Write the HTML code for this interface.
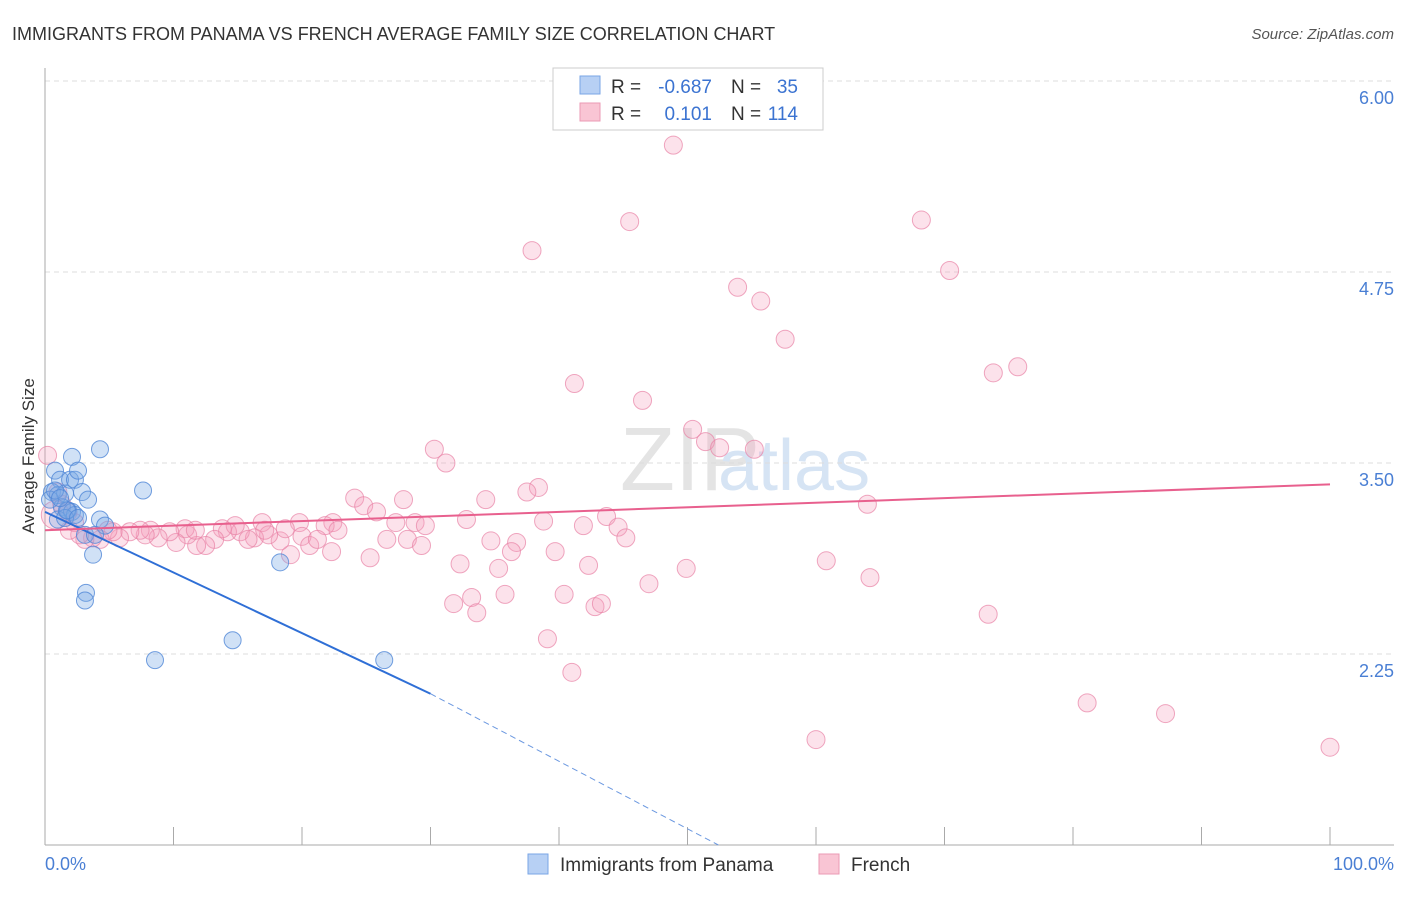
<!DOCTYPE html>
<html><head><meta charset="utf-8"><style>
body{margin:0;background:#fff;font-family:"Liberation Sans",sans-serif;}
svg text{font-family:"Liberation Sans",sans-serif;}
</style></head><body>
<svg width="1406" height="892" id="chart">
<text x="12" y="40" font-size="18" fill="#333">IMMIGRANTS FROM PANAMA VS FRENCH AVERAGE FAMILY SIZE CORRELATION CHART</text>
<text x="1394" y="39" font-size="15" fill="#555" text-anchor="end" font-style="italic">Source: ZipAtlas.com</text>
<text x="620" y="490" font-size="90" fill="#e4e4e4" font-family="Liberation Serif">ZIP</text>
<text x="718" y="490" font-size="72" fill="#d6e4f4">atlas</text>
<g id="grid"></g>
<g id="axes"></g>
<g id="pts"></g>
<g id="trends"></g>
<text transform="translate(34,456) rotate(-90)" font-size="17" fill="#333" text-anchor="middle">Average Family Size</text>
<text x="45" y="870" font-size="18" fill="#4a7fd4">0.0%</text>
<text x="1394" y="870" font-size="18" fill="#4a7fd4" text-anchor="end">100.0%</text>
<g>
<rect x="553" y="68" width="270" height="62" fill="#fff" stroke="#ccc"/>
<rect x="580" y="76" width="20" height="18" fill="#b7d0f4" stroke="#7aa6e6"/>
<rect x="580" y="103" width="20" height="18" fill="#f9c5d4" stroke="#eb9ab4"/>
<text x="611" y="93" font-size="19" fill="#333">R =</text>
<text x="712" y="93" font-size="19" fill="#3b73d1" text-anchor="end">-0.687</text>
<text x="731" y="93" font-size="19" fill="#333">N =</text>
<text x="798" y="93" font-size="19" fill="#3b73d1" text-anchor="end">35</text>
<text x="611" y="120" font-size="19" fill="#333">R =</text>
<text x="712" y="120" font-size="19" fill="#3b73d1" text-anchor="end">0.101</text>
<text x="731" y="120" font-size="19" fill="#333">N =</text>
<text x="798" y="120" font-size="19" fill="#3b73d1" text-anchor="end">114</text>
</g>
<g>
<rect x="528" y="854" width="20" height="20" fill="#b7d0f4" stroke="#7aa6e6"/>
<text x="560" y="871" font-size="19" fill="#333">Immigrants from Panama</text>
<rect x="819" y="854" width="20" height="20" fill="#f9c5d4" stroke="#eb9ab4"/>
<text x="851" y="871" font-size="19" fill="#333">French</text>
</g>
</svg>
<script>
const yTicks=[6.00,4.75,3.50,2.25];
const yTickLabels=["6.00","4.75","3.50","2.25"];
const blueX=[0.78,1.17,2.1,4.28,0.54,1.0,1.56,1.95,2.33,2.57,2.88,3.35,1.32,1.79,2.1,2.33,1.0,1.56,4.28,4.67,3.11,3.89,3.74,3.19,3.11,7.63,18.3,14.6,8.56,26.4,0.39,0.78,1.71,2.57,1.17];
const blueY=[3.45,3.39,3.54,3.59,3.31,3.29,3.30,3.39,3.39,3.45,3.31,3.26,3.21,3.19,3.18,3.16,3.13,3.14,3.13,3.09,3.03,3.03,2.90,2.65,2.60,3.32,2.85,2.34,2.21,2.21,3.26,3.32,3.19,3.14,3.27];
const pinkX=[48.9,45.5,68.2,37.9,70.4,53.9,55.7,57.6,41.2,73.8,75.7,46.5,50.4,30.3,31.2,51.4,52.5,55.2,38.4,37.5,34.3,27.9,24.1,24.8,25.8,32.8,38.8,41.9,43.7,44.6,45.2,34.7,36.7,36.3,39.7,32.3,35.3,42.3,49.9,60.8,64.2,47.0,31.8,33.2,33.6,35.8,40.4,42.8,43.3,39.1,41.0,73.4,81.1,87.2,60.0,100,64.0,28.8,29.6,27.3,26.6,28.2,29.3,25.3,22.4,21.8,22.8,19.8,20.0,20.6,21.2,22.3,19.1,18.3,18.7,16.9,17.4,16.3,15.2,14.2,14.8,13.8,13.2,12.5,11.8,11.1,10.9,10.2,9.7,8.8,8.2,7.8,7.4,6.6,5.8,5.3,4.9,4.3,3.7,3.1,2.7,2.3,1.9,1.8,1.3,1.0,0.2,0.8,11.7,15.8,17.1];
const pinkY=[5.58,5.08,5.09,4.89,4.76,4.65,4.56,4.31,4.02,4.09,4.13,3.91,3.72,3.59,3.50,3.64,3.60,3.59,3.34,3.31,3.26,3.26,3.27,3.22,3.18,3.13,3.12,3.09,3.15,3.08,3.01,2.99,2.98,2.92,2.92,2.84,2.81,2.83,2.81,2.86,2.75,2.71,2.58,2.62,2.52,2.64,2.64,2.56,2.58,2.35,2.13,2.51,1.93,1.86,1.69,1.64,3.23,3.11,3.09,3.11,3.00,3.00,2.96,2.88,3.11,3.09,3.06,3.11,3.02,2.96,3.00,2.92,2.90,2.99,3.07,3.11,3.03,3.01,3.05,3.05,3.09,3.07,3.00,2.96,2.96,3.03,3.07,2.98,3.05,3.01,3.06,3.03,3.06,3.05,3.01,3.05,3.06,3.00,3.01,3.00,3.03,3.11,3.06,3.18,3.23,3.31,3.55,3.16,3.06,3.00,3.06];
const blueTrend=[3.18,1.99,1.0]; const blueTrendX=[0,30,52.4];
const pinkTrend=[3.06,3.36]; const pinkTrendX=[0,100];
const NS="http://www.w3.org/2000/svg";
function sx(p){return 45+p*12.85;}
function sy(v){return 463-(v-3.5)*152.8;}
function mk(tag,attrs,parent){const e=document.createElementNS(NS,tag);for(const k in attrs)e.setAttribute(k,attrs[k]);document.getElementById(parent).appendChild(e);return e;}
yTicks.forEach((t,i)=>{
 const l=mk('line',{x1:45,x2:1394,y1:sy(t),y2:sy(t),stroke:'#ddd','stroke-dasharray':'5,4'},'grid');
 
 
 const tx=mk('text',{x:1394,y:sy(t)+23,'font-size':18,fill:'#4a7fd4','text-anchor':'end'},'grid');
 tx.textContent=yTickLabels[i];
 
 
});
const ax=mk('line',{x1:45,x2:45,y1:68,y2:845,stroke:'#aaa'},'axes');


const bx=mk('line',{x1:45,x2:1394,y1:845,y2:845,stroke:'#aaa'},'axes');


for(let i=1;i<=10;i++){
 const t=mk('line',{x1:sx(i*10),x2:sx(i*10),y1:827,y2:845,stroke:'#aaa'},'axes');
 
 
}
pinkX.forEach((x,i)=>{
 const c=mk('circle',{cx:sx(x),cy:sy(pinkY[i]),r:(i==pinkX.length-4)?14:9,fill:'rgba(244,160,188,0.3)',stroke:'rgba(232,130,165,0.7)','stroke-width':1},'pts');
 
 
});
blueX.forEach((x,i)=>{
 const c=mk('circle',{cx:sx(x),cy:sy(blueY[i]),r:8.5,fill:'rgba(120,168,230,0.35)',stroke:'rgba(80,135,215,0.8)','stroke-width':1},'pts');
 
 
});
const b1=mk('line',{x1:sx(blueTrendX[0]),y1:sy(blueTrend[0]),x2:sx(blueTrendX[1]),y2:sy(blueTrend[1]),stroke:'#2f6fd6','stroke-width':2},'trends');


const b2=mk('line',{x1:sx(blueTrendX[1]),y1:sy(blueTrend[1]),x2:sx(blueTrendX[2]),y2:sy(blueTrend[2]),stroke:'#6b98e0','stroke-width':1,'stroke-dasharray':'6,4'},'trends');


const p1=mk('line',{x1:sx(pinkTrendX[0]),y1:sy(pinkTrend[0]),x2:sx(pinkTrendX[1]),y2:sy(pinkTrend[1]),stroke:'#e8608e','stroke-width':2},'trends');


</script>
</body></html>
